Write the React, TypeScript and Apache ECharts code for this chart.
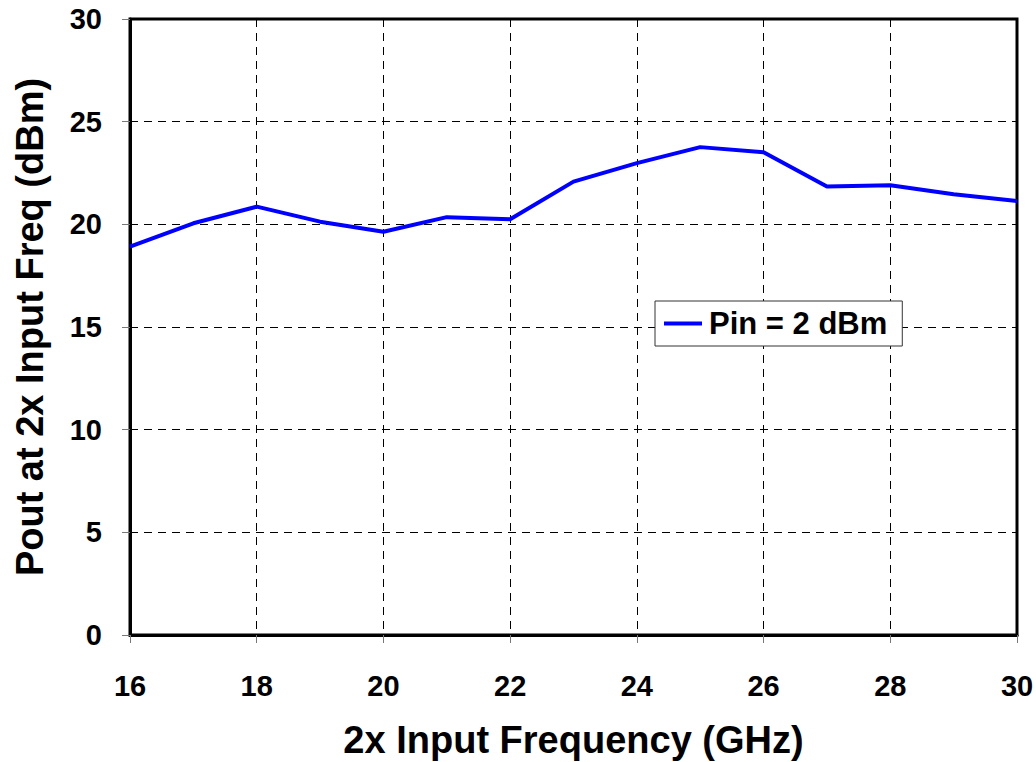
import React, { useEffect, useRef } from "react";
import * as echarts from "echarts";

const freqs = [16, 17, 18, 19, 20, 21, 22, 23, 24, 25, 26, 27, 28, 29, 30];
const pout = [18.91, 20.05, 20.86, 20.13, 19.64, 20.35, 20.25, 22.08, 22.98, 23.76, 23.51, 21.84, 21.9, 21.47, 21.14];
const seriesName = "Pin = 2 dBm";

export default function App() {
  const ref = useRef<HTMLDivElement>(null);
  useEffect(() => {
    if (!ref.current) return;
    const chart = echarts.init(ref.current, undefined, { renderer: "svg" });
    const font = "Liberation Sans, Arial, sans-serif";
    chart.setOption({
      animation: false,
      backgroundColor: "#ffffff",
      grid: {
        left: 130,
        top: 19,
        right: 19,
        bottom: 127,
        show: true,
        borderColor: "#000",
        borderWidth: 3,
        backgroundColor: "transparent",
        outerBoundsMode: "none",
        containLabel: false,
      },
      legend: {
        data: [seriesName],
        left: 655,
        top: 301,
        orient: "vertical",
        backgroundColor: "#fff",
        borderColor: "#333",
        borderWidth: 1,
        padding: [7, 15, 7, 9],
        icon: "rect",
        itemWidth: 38,
        itemHeight: 4,
        itemGap: 0,
        textStyle: { fontFamily: font, fontSize: 31, fontWeight: "bold", color: "#000", padding: [0, 0, 0, 2] },
      },
      xAxis: {
        type: "value",
        min: 16,
        max: 30,
        interval: 2,
        name: "2x Input Frequency (GHz)",
        nameLocation: "middle",
        nameGap: 86,
        nameTextStyle: { fontFamily: font, fontSize: 38, fontWeight: "bold", color: "#000" },
        axisLine: { show: true, lineStyle: { color: "#000", width: 3 } },
        axisTick: { show: true, inside: false, length: 8, lineStyle: { color: "#777", width: 1 } },
        axisLabel: { fontFamily: font, fontSize: 29, fontWeight: "bold", color: "#000", margin: 36 },
        splitLine: { show: true, lineStyle: { color: "#000", width: 1, type: [8, 6] } },
      },
      yAxis: {
        type: "value",
        min: 0,
        max: 30,
        interval: 5,
        name: "Pout at 2x Input Freq (dBm)",
        nameLocation: "middle",
        nameGap: 81,
        nameTextStyle: { fontFamily: font, fontSize: 38, fontWeight: "bold", color: "#000" },
        axisLine: { show: true, lineStyle: { color: "#000", width: 3 } },
        axisTick: { show: true, inside: false, length: 8, lineStyle: { color: "#777", width: 1 } },
        axisLabel: { fontFamily: font, fontSize: 29, fontWeight: "bold", color: "#000", margin: 28 },
        splitLine: { show: true, lineStyle: { color: "#000", width: 1, type: [8, 6] } },
      },
      series: [
        {
          name: seriesName,
          type: "line",
          data: freqs.map((f, i) => [f, pout[i]]),
          symbol: "none",
          lineStyle: { color: "#0000ff", width: 4 },
          itemStyle: { color: "#0000ff" },
        },
      ],
    });
    return () => chart.dispose();
  }, []);
  return (
    <div
      ref={ref}
      style={{ position: "absolute", left: 0, top: 0, width: 1036, height: 762 }}
    />
  );
}
